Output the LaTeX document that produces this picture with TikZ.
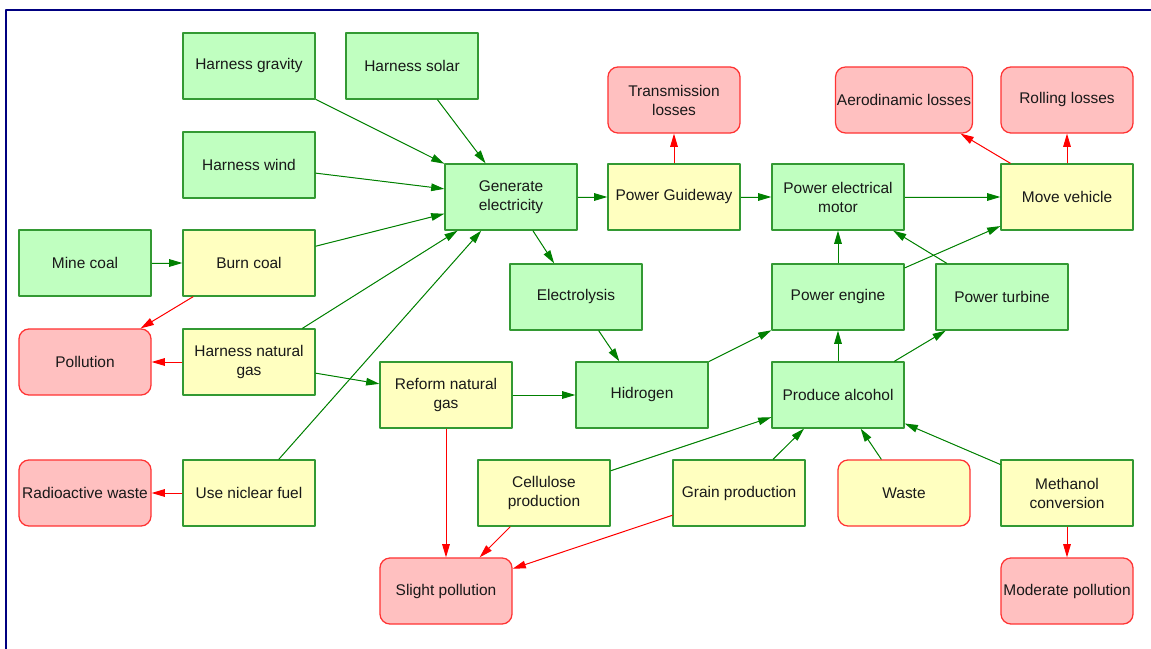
\documentclass[tikz,border=0pt]{standalone}
\usepackage{fontspec}
\setmainfont{Liberation Sans}
\usetikzlibrary{arrows.meta}
\definecolor{fillgreen}{HTML}{C0FFC0}
\definecolor{fillyellow}{HTML}{FFFFC0}
\definecolor{fillred}{HTML}{FFC0C0}
\definecolor{linegreen}{HTML}{339933}
\definecolor{linered}{HTML}{FF3333}
\definecolor{arrowgreen}{HTML}{008000}
\definecolor{arrowred}{HTML}{FF0000}
\definecolor{framenavy}{HTML}{000080}
\begin{document}
\begin{tikzpicture}[x=0.025cm,y=-0.025cm,line join=round,>={Triangle[length=3.3mm,width=1.9mm]},font=\fontsize{11}{13.5}\selectfont,
	box/.style={draw=linegreen,line width=0.9pt,minimum width=3.3cm,minimum height=1.65cm,align=center,inner sep=1pt,text=black!90},
	gbox/.style={box,fill=fillgreen},
	ybox/.style={box,fill=fillyellow},
	rbox/.style={box,draw=linered,fill=fillred,rounded corners=0.25cm},
	wbox/.style={rbox,fill=fillyellow},
	feed/.style={->,draw=arrowgreen,fill=arrowgreen,line width=0.7pt},
	loss/.style={->,draw=arrowred,fill=arrowred,line width=0.7pt}]
	\useasboundingbox (0,0) rectangle (1151,649);
	\draw[framenavy,line width=1.4pt] (6,649)--(6,10)--(1151,10);
	% sources
	\node[gbox] (gravity) at (249,66) {Harness gravity};
	\node[gbox] (solar) at (412,66) {Harness solar};
	\node[gbox] (wind) at (249,165) {Harness wind};
	\node[gbox] (mine) at (85,263) {Mine coal};
	\node[ybox] (burn) at (249,263) {Burn coal};
	\node[ybox] (gas) at (249,362) {Harness natural\\gas};
	\node[ybox] (nuclear) at (249,493) {Use niclear fuel};
	\node[rbox] (pollution) at (85,362) {Pollution};
	\node[rbox] (radio) at (85,493) {Radioactive waste};
	% middle
	\node[gbox] (generate) at (511,197) {Generate\\electricity};
	\node[ybox] (guideway) at (674,197) {Power Guideway};
	\node[rbox] (transmission) at (674,100) {Transmission\\losses};
	\node[gbox] (electrolysis) at (576,297) {Electrolysis};
	\node[ybox] (reform) at (446,395) {Reform natural\\gas};
	\node[gbox] (hidrogen) at (642,395) {Hidrogen};
	\node[ybox] (cellulose) at (544,493) {Cellulose\\production};
	\node[ybox] (grain) at (739,493) {Grain production};
	\node[rbox] (slight) at (446,591) {Slight pollution};
	% right
	\node[gbox] (motor) at (838,197) {Power electrical\\motor};
	\node[ybox] (vehicle) at (1067,197) {Move vehicle};
	\node[rbox] (aero) at (904,100) {Aerodinamic losses};
	\node[rbox] (rolling) at (1067,100) {Rolling losses};
	\node[gbox] (engine) at (838,297) {Power engine};
	\node[gbox] (turbine) at (1002,297) {Power turbine};
	\node[gbox] (alcohol) at (838,395) {Produce alcohol};
	\node[wbox] (waste) at (904,493) {Waste};
	\node[ybox] (methanol) at (1067,493) {Methanol\\conversion};
	\node[rbox] (moderate) at (1067,591) {Moderate pollution};
	% energy flow
	\foreach \a/\b in {gravity/generate,solar/generate,wind/generate,burn/generate,gas/generate,nuclear/generate,
		mine/burn,gas/reform,generate/guideway,generate/electrolysis,electrolysis/hidrogen,reform/hidrogen,
		hidrogen/engine,guideway/motor,motor/vehicle,engine/motor,engine/vehicle,turbine/motor,
		alcohol/engine,alcohol/turbine,cellulose/alcohol,grain/alcohol,waste/alcohol,methanol/alcohol}
		\draw[feed] (\a)--(\b);
	% losses
	\foreach \a/\b in {guideway/transmission,vehicle/aero,vehicle/rolling,burn/pollution,gas/pollution,
		nuclear/radio,reform/slight,cellulose/slight,grain/slight,methanol/moderate}
		\draw[loss] (\a)--(\b);
\end{tikzpicture}
\end{document}
